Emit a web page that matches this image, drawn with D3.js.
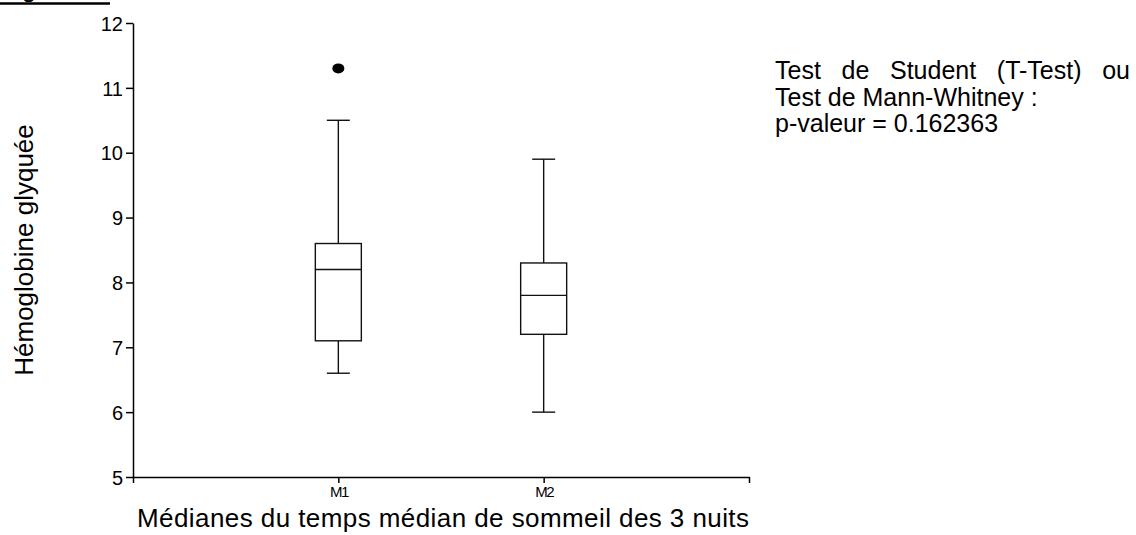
<!DOCTYPE html>
<html>
<head>
<meta charset="utf-8">
<script src="https://cdn.jsdelivr.net/npm/d3@7"></script>
<style>
    body { margin: 0; background: #fff; }
    text { font-family: "Liberation Sans", Arial, sans-serif; fill: #000; }
</style>
</head>
<body>
<div id="chart-area"></div>
<script>

// data
var groups = ["M1", "M2"];
var whiskerLow = [6.6, 6.0];
var q1 = [7.1, 7.2];
var medians = [8.2, 7.8];
var q3 = [8.6, 8.3];
var whiskerHigh = [10.5, 9.9];
var outliers = [[11.3], []];

var yTicks = [5, 6, 7, 8, 9, 10, 11, 12];
var yTitle = "Hémoglobine glyquée";
var xTitle = "Médianes du temps médian de sommeil des 3 nuits";
var noteLines = [
    "Test de Student (T-Test) ou",
    "Test de Mann-Whitney :",
    "p-valeur = 0.162363"
];
var headingFragment = "Figure 12";


BoxPlot = function(_parentElement){
    this.parentElement = _parentElement;
    this.initVis();
}

BoxPlot.prototype.initVis = function(){
    var vis = this;

    vis.svg = d3.select("#" + vis.parentElement).append("svg")
        .attr("width", 1136)
        .attr("height", 535);

    vis.margin = { top: 23, left: 133, right: 387, bottom: 58 };
    vis.height = 535 - vis.margin.top - vis.margin.bottom;
    vis.width = 1136 - vis.margin.left - vis.margin.right;

    vis.g = vis.svg.append("g")
        .attr("transform", "translate(" + vis.margin.left + "," + vis.margin.top + ")");

    // groups sit at 1 and 2 on a 0..3 axis
    vis.x = d3.scaleLinear()
        .domain([0, groups.length + 1])
        .range([0, vis.width]);

    vis.y = d3.scaleLinear()
        .domain([5, 12])
        .range([vis.height, 0]);

    vis.xAxis = d3.axisBottom(vis.x)
        .tickValues(d3.range(0, groups.length + 2))
        .tickSize(6)
        .tickSizeOuter(0)
        .tickFormat(function(d){ return groups[d - 1] || ""; });

    vis.yAxis = d3.axisLeft(vis.y)
        .tickValues(yTicks)
        .tickSize(7)
        .tickSizeOuter(0)
        .tickPadding(3)
        .tickFormat(d3.format("d"));

    var gx = vis.g.append("g")
        .attr("transform", "translate(0," + vis.height + ")")
        .call(vis.xAxis);
    gx.selectAll("text")
        .attr("font-size", 15)
        .attr("letter-spacing", -1.5)
        .attr("dy", "0.75em")
        .attr("y", 9);

    var gy = vis.g.append("g")
        .call(vis.yAxis);
    gy.selectAll("text")
        .attr("font-size", 20)
        .attr("dy", "0.36em");

    vis.svg.selectAll(".domain, .tick line")
        .attr("stroke", "#000")
        .attr("stroke-width", 1.5);

    // axis titles
    vis.svg.append("text")
        .attr("x", 137)
        .attr("y", 527)
        .attr("font-size", 26)
        .attr("textLength", 612)
        .attr("lengthAdjust", "spacing")
        .text(xTitle);

    vis.svg.append("text")
        .attr("transform", "translate(33," + (vis.margin.top + vis.y(8.5)) + ") rotate(-90)")
        .attr("text-anchor", "middle")
        .attr("font-size", 26)
        .text(yTitle);

    // cut-off heading from the page above
    vis.svg.append("text")
        .attr("x", 0)
        .attr("y", -3)
        .attr("font-size", 26)
        .text(headingFragment);
    vis.svg.append("line")
        .attr("x1", 0).attr("x2", 110)
        .attr("y1", 3.5).attr("y2", 3.5)
        .attr("stroke", "#000")
        .attr("stroke-width", 2.5);

    vis.drawNote();
    vis.updateVis();
}

BoxPlot.prototype.drawNote = function(){
    var vis = this;
    var left = 775, right = 1130, top = 79, lineStep = 26.5;

    noteLines.forEach(function(line, i){
        var baseY = top + i * lineStep;
        if (i === 0) {
            // first line is justified across the column
            var words = line.split(" ");
            var nodes = words.map(function(w){
                return vis.svg.append("text")
                    .attr("y", baseY)
                    .attr("font-size", 25)
                    .text(w);
            });
            var widths = nodes.map(function(n){ return n.node().getComputedTextLength(); });
            var gap = (right - left - d3.sum(widths)) / (words.length - 1);
            var xPos = left;
            nodes.forEach(function(n, j){
                n.attr("x", xPos);
                xPos += widths[j] + gap;
            });
        } else {
            vis.svg.append("text")
                .attr("x", left)
                .attr("y", baseY)
                .attr("font-size", 25)
                .text(line);
        }
    });
}

BoxPlot.prototype.updateVis = function(){
    var vis = this;

    var boxW = 46, capW = 23;
    var data = groups.map(function(name, i){
        return { name: name, pos: i + 1, lo: whiskerLow[i], q1: q1[i], med: medians[i],
                 q3: q3[i], hi: whiskerHigh[i], out: outliers[i] };
    });

    var box = vis.g.selectAll(".box")
        .data(data)
        .enter()
        .append("g")
        .attr("class", "box")
        .attr("stroke", "#111")
        .attr("stroke-width", 1.4)
        .attr("fill", "none");

    // whiskers
    box.append("line")
        .attr("x1", function(d){ return vis.x(d.pos); })
        .attr("x2", function(d){ return vis.x(d.pos); })
        .attr("y1", function(d){ return vis.y(d.hi); })
        .attr("y2", function(d){ return vis.y(d.q3); });
    box.append("line")
        .attr("x1", function(d){ return vis.x(d.pos); })
        .attr("x2", function(d){ return vis.x(d.pos); })
        .attr("y1", function(d){ return vis.y(d.q1); })
        .attr("y2", function(d){ return vis.y(d.lo); });

    // caps
    ["hi", "lo"].forEach(function(k){
        box.append("line")
            .attr("x1", function(d){ return vis.x(d.pos) - capW / 2; })
            .attr("x2", function(d){ return vis.x(d.pos) + capW / 2; })
            .attr("y1", function(d){ return vis.y(d[k]); })
            .attr("y2", function(d){ return vis.y(d[k]); });
    });

    // box + median
    box.append("rect")
        .attr("x", function(d){ return vis.x(d.pos) - boxW / 2; })
        .attr("y", function(d){ return vis.y(d.q3); })
        .attr("width", boxW)
        .attr("height", function(d){ return vis.y(d.q1) - vis.y(d.q3); })
        .attr("fill", "#fff");
    box.append("line")
        .attr("x1", function(d){ return vis.x(d.pos) - boxW / 2; })
        .attr("x2", function(d){ return vis.x(d.pos) + boxW / 2; })
        .attr("y1", function(d){ return vis.y(d.med); })
        .attr("y2", function(d){ return vis.y(d.med); });

    // outliers
    box.selectAll(".outlier")
        .data(function(d){ return d.out.map(function(v){ return { pos: d.pos, v: v }; }); })
        .enter()
        .append("ellipse")
        .attr("class", "outlier")
        .attr("cx", function(d){ return vis.x(d.pos); })
        .attr("cy", function(d){ return vis.y(d.v); })
        .attr("rx", 6)
        .attr("ry", 5)
        .attr("fill", "#000")
        .attr("stroke", "none");
}

var plot = new BoxPlot("chart-area");

</script>
</body>
</html>
